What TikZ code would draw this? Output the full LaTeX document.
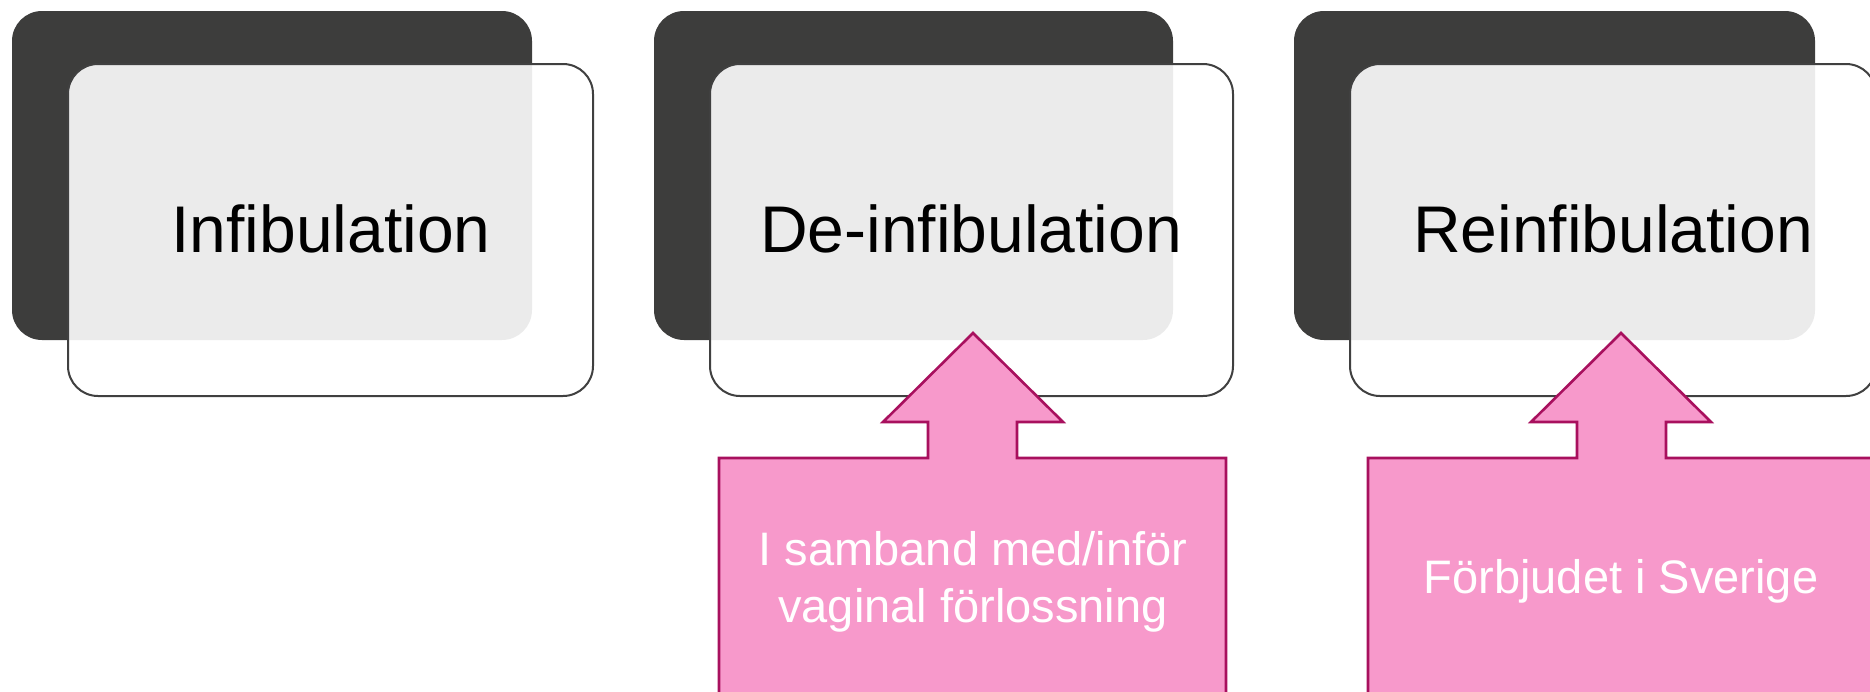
\documentclass[tikz,border=0pt]{standalone}
\usepackage{fontspec}
\setmainfont{Liberation Sans}
\definecolor{darkbox}{HTML}{3D3D3C}
\definecolor{edgegray}{HTML}{404040}
\definecolor{pinkfill}{HTML}{F799CB}
\definecolor{pinkedge}{HTML}{A8105E}
\begin{document}
\begin{tikzpicture}[x=1pt,y=-1pt,
  backbox/.style={fill=darkbox,rounded corners=30pt},
  frontbox/.style={draw=edgegray,line width=2pt,fill=white,fill opacity=0.9,rounded corners=30pt},
  title/.style={anchor=base,text=black,font=\fontsize{66}{79}\selectfont,inner sep=0pt},
  callout/.style={fill=pinkfill,draw=pinkedge,line width=2.6pt,line join=miter},
  note/.style={anchor=base,text=white,font=\fontsize{47}{57}\selectfont,inner sep=0pt}]
\useasboundingbox (0,0) rectangle (1870,691);
% panel 1
\fill[backbox] (12,11) rectangle (532,340);
\draw[frontbox] (68,64) rectangle (593,396);
\node[title] (t1) at (331,252) {Infibulation};
% panel 2
\fill[backbox] (654,11) rectangle (1173,340);
\draw[frontbox] (710,64) rectangle (1233,396);
\node[title] (t2) at (971,252) {De-infibulation};
% panel 3
\fill[backbox] (1294,11) rectangle (1815,340);
\draw[frontbox] (1350,64) rectangle (1876,396);
\node[title] (t3) at (1613,252) {Reinfibulation};
% callout 2
\draw[callout] (973,333) -- (1063,422) -- (1017,422) -- (1017,458) -- (1226,458)
  -- (1226,700) -- (719,700) -- (719,458) -- (928,458) -- (928,422) -- (883,422) -- cycle;
\node[note] (n2a) at (973,565) {I samband med/inför};
\node[note] (n2b) at (973,622) {vaginal förlossning};
% callout 3
\draw[callout] (1621,333) -- (1711,422) -- (1666,422) -- (1666,458) -- (1874,458)
  -- (1874,700) -- (1368,700) -- (1368,458) -- (1577,458) -- (1577,422) -- (1531,422) -- cycle;
\node[note] (n3) at (1621,593) {Förbjudet i Sverige};
\end{tikzpicture}
\end{document}
